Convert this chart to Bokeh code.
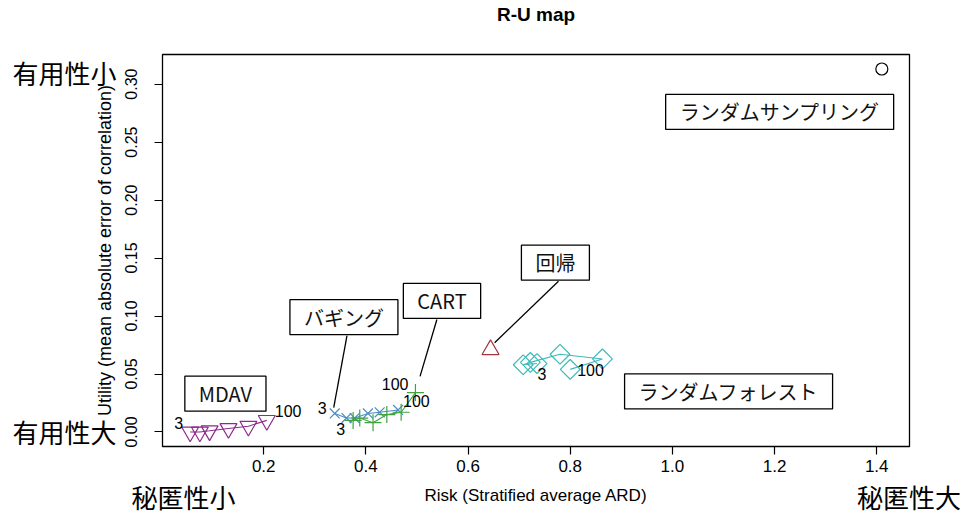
import numpy as np
from bokeh.plotting import figure
from bokeh.models import Range1d, FixedTicker, NumeralTickFormatter, Label, LinearAxis
from bokeh.core.properties import value
from bokeh.embed import file_html
from bokeh.resources import INLINE

# ---------------- data ----------------
mdav_x = [0.056, 0.075, 0.094, 0.131, 0.170, 0.206]
mdav_y = [0.000, 0.000, 0.001, 0.003, 0.005, 0.010]
bag_x = [0.339, 0.362, 0.378, 0.404, 0.427, 0.463]
bag_y = [0.016, 0.012, 0.012, 0.016, 0.017, 0.019]
cart_x = [0.375, 0.388, 0.414, 0.441, 0.469, 0.497]
cart_y = [0.010, 0.012, 0.008, 0.015, 0.017, 0.034]
rf_x = [0.735, 0.708, 0.722, 0.780, 0.863, 0.800]
rf_y = [0.059, 0.058, 0.060, 0.067, 0.063, 0.054]
reg_x = [0.644]
reg_y = [0.071]
rs_x = [1.410]
rs_y = [0.313]
k_first, k_last = "3", "100"
x_ticks = [0.2, 0.4, 0.6, 0.8, 1.0, 1.2, 1.4]
y_ticks = [0.00, 0.05, 0.10, 0.15, 0.20, 0.25, 0.30]

title_text = "R-U map"
xlabel_text = "Risk (Stratified average ARD)"
ylabel_text = "Utility (mean absolute error of correlation)"
# direction notes at the axis ends
risk_notes = {0.043: "秘匿性小", 1.463: "秘匿性大"}
util_notes = {0.310: "有用性小", 0.000: "有用性大"}

# ---------------- ranges like R (4% padding) ----------------
all_x = np.concatenate([mdav_x, bag_x, cart_x, rf_x, reg_x, rs_x])
all_y = np.concatenate([mdav_y, bag_y, cart_y, rf_y, reg_y, rs_y])
px = 0.04 * (all_x.max() - all_x.min())
py = 0.04 * (all_y.max() - all_y.min())
x0, x1 = float(all_x.min() - px), float(all_x.max() + px)
y0, y1 = float(all_y.min() - py), float(all_y.max() + py)

p = figure(width=965, height=518, output_backend="svg", toolbar_location=None,
           x_range=Range1d(x0, x1), y_range=Range1d(y0, y1),
           min_border_left=162, min_border_right=56, min_border_top=52, min_border_bottom=72)
p.grid.visible = False
p.outline_line_color = "black"
p.outline_line_width = 1.3
p.background_fill_color = "white"
p.border_fill_color = "white"

for ax in (p.xaxis[0], p.yaxis[0]):
    ax.axis_line_color = None
    ax.major_tick_in = 0
    ax.major_tick_out = 8
    ax.minor_tick_line_color = None
    ax.major_tick_line_width = 1.2
    ax.major_label_text_font = "Liberation Sans"
    ax.major_label_text_color = "black"
    ax.axis_label_text_font = "Liberation Sans"
    ax.axis_label_text_font_style = "normal"
    ax.axis_label_text_color = "black"
p.xaxis.ticker = FixedTicker(ticks=x_ticks)
p.xaxis.formatter = NumeralTickFormatter(format="0.0")
p.xaxis.major_label_text_font_size = "17px"
p.xaxis.major_label_standoff = 5
p.xaxis.axis_label = xlabel_text
p.xaxis.axis_label_text_font_size = "17px"
p.xaxis.axis_label_standoff = 11
p.yaxis.ticker = FixedTicker(ticks=y_ticks)
p.yaxis.formatter = NumeralTickFormatter(format="0.00")
p.yaxis.major_label_text_font_size = "16px"
p.yaxis.major_label_orientation = "vertical"
p.yaxis.major_label_standoff = 17
p.yaxis.axis_label = ylabel_text
p.yaxis.axis_label_text_font_size = "18px"
p.yaxis.axis_label_standoff = 8

# extra text-only axes: title above the frame centre, direction notes at axis ends
JP = "Noto Sans CJK JP"
def text_axis(labels, standoff, font, size, style="normal"):
    return LinearAxis(ticker=FixedTicker(ticks=list(labels.keys())),
                      major_label_overrides=labels, axis_line_color=None,
                      major_tick_line_color=None, minor_tick_line_color=None,
                      major_tick_in=0, major_tick_out=0,
                      major_label_standoff=standoff,
                      major_label_orientation="horizontal",
                      major_label_text_font=font, major_label_text_font_size=size,
                      major_label_text_font_style=style,
                      major_label_text_color="black")

p.add_layout(text_axis({(x0 + x1) / 2: title_text}, 30, "Liberation Sans", "19px", "bold"), "above")
p.add_layout(text_axis(risk_notes, -30, JP, "26px"), "below")
p.add_layout(text_axis(util_notes, -25, JP, "26px"), "left")

# ---------------- series ----------------
C_MDAV = "#8E2A8E"
C_BAG = "#4A8CC4"
C_CART = "#3EA33E"
C_RF = "#3DBABA"
C_REG = "#A3353F"

def series(xs, ys, color, marker, size, angle=0.0):
    p.line(xs, ys, line_color=color, line_width=1.1)
    p.scatter(xs, ys, marker=marker, size=size, angle=angle, fill_color=None,
              line_color=color, line_width=1.2)

series(mdav_x, mdav_y, C_MDAV, "inverted_triangle", 17)
series(bag_x, bag_y, C_BAG, "x", 14)
series(cart_x, cart_y, C_CART, "cross", 17)
series(rf_x, rf_y, C_RF, "square", 14, angle=np.pi / 4)
p.scatter(reg_x, reg_y, marker="triangle", size=17, fill_color=None, line_color=C_REG, line_width=1.2)
p.scatter(rs_x, rs_y, marker="circle", size=12, fill_color=None, line_color="black", line_width=1.2)

# k labels at first / last point of each series
def klabel(x, y, txt, align, dx, dy):
    p.text([x], [y], text=[txt], text_align=align, text_baseline="middle",
           x_offset=dx, y_offset=dy, text_font=value("Liberation Sans"),
           text_font_size="16px", text_color="black")

klabel(mdav_x[0], mdav_y[0], k_first, "right", -7, -9)
klabel(mdav_x[-1], mdav_y[-1], k_last, "left", 8, -9)
klabel(bag_x[0], bag_y[0], k_first, "right", -8, -5)
klabel(bag_x[-1], bag_y[-1], k_last, "left", 5, -9)
klabel(cart_x[0], cart_y[0], k_first, "right", -8, 9)
klabel(cart_x[-1], cart_y[-1], k_last, "right", -7, -9)
klabel(rf_x[0], rf_y[0], k_first, "center", 5, 10)
klabel(rf_x[-1], rf_y[-1], k_last, "left", 7, 1)

# leader lines (box edge -> point)
p.segment(x0=[0.777, 0.539, 0.363], y0=[0.130, 0.097, 0.083],
          x1=[0.652, 0.506, 0.337], y1=[0.077, 0.048, 0.021],
          line_color="black", line_width=1.3)

# boxed method names
def boxed(txt, x, y):
    p.add_layout(Label(x=x, y=y, text=txt, text_align="center", text_baseline="middle",
                       text_font=JP, text_font_size="20px", text_color="#111111",
                       background_fill_color="white", border_line_color="black",
                       border_line_width=1.3,
                       padding=dict(left=14, right=14, top=3, bottom=3)))

boxed("ランダムサンプリング", 1.210, 0.276)
boxed("回帰", 0.771, 0.146)
boxed("CART", 0.549, 0.113)
boxed("バギング", 0.357, 0.099)
boxed("MDAV", 0.125, 0.033)
boxed("ランダムフォレスト", 1.110, 0.035)

open("out.html", "w").write(file_html(p, INLINE))
